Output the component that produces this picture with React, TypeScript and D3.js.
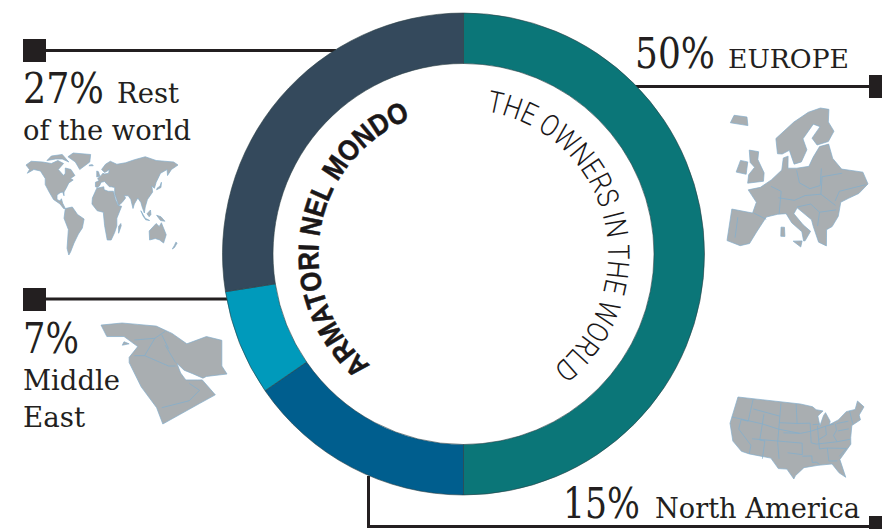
import React from "react";
import * as d3 from "d3";

// ---- data ----
const regions = ["Europe", "North America", "Middle East", "Rest of the world"];
const shares = [50, 15.4, 7.1, 27.5];
const ringColors = ["#0b7678", "#005e8e", "#009abb", "#34495c"];

type Ring = [number, number][];
const worldLand: Ring[] = [
  [[-168,66],[-156,71],[-130,70],[-110,68],[-95,72],[-82,68],[-94,60],[-82,52],[-78,55],[-78,62],[-65,60],[-56,52],[-66,48],[-60,46],[-70,42],[-76,35],[-81,30],[-81,25],[-84,30],[-90,29],[-97,26],[-97,20],[-90,18],[-87,21],[-84,15],[-78,8],[-82,8],[-90,14],[-105,20],[-115,30],[-124,40],[-124,48],[-135,58],[-150,60],[-165,55],[-160,60]],
  [[-45,60],[-22,70],[-20,80],[-60,82],[-72,77],[-55,70]],
  [[-120,72],[-100,74],[-85,74],[-70,70],[-85,80],[-110,78]],
  [[-78,8],[-62,10],[-50,0],[-35,-6],[-39,-18],[-48,-26],[-58,-38],[-66,-50],[-70,-54],[-74,-45],[-71,-20],[-81,-5]],
  [[-9,37],[-9,43],[-1,45],[-4,48],[4,52],[8,55],[12,54],[21,55],[23,60],[18,58],[12,56],[5,60],[14,67],[25,71],[40,67],[60,69],[80,73],[105,77],[130,72],[170,70],[180,66],[165,60],[156,52],[155,60],[140,55],[130,43],[126,35],[120,38],[122,30],[110,20],[105,10],[103,2],[98,10],[95,16],[88,22],[80,14],[77,8],[72,20],[66,25],[57,25],[60,22],[52,16],[44,12],[35,28],[35,36],[27,37],[23,37],[18,40],[12,44],[4,43],[0,38],[-5,36]],
  [[-6,35],[10,37],[11,33],[20,31],[32,31],[37,20],[43,12],[51,11],[40,-5],[40,-15],[35,-24],[27,-34],[18,-34],[12,-15],[9,3],[-5,5],[-17,14],[-16,22]],
  [[44,-25],[50,-15],[49,-12],[44,-16]],
  [[114,-22],[130,-12],[137,-16],[142,-11],[153,-27],[147,-38],[138,-34],[128,-32],[115,-34]],
  [[131,33],[141,36],[142,43],[139,38],[132,35]],
  [[-6,50],[1,51],[-2,57],[-6,58]],
  [[-24,65],[-14,65],[-16,66.5],[-22,66]],
  [[95,5],[105,-5],[115,-8],[106,-7],[100,-2]],
  [[109,1],[117,6],[118,0],[114,-3]],
  [[131,-1],[141,-3],[150,-9],[140,-8]],
  [[172,-41],[175,-37],[178,-38],[172,-44],[167,-46]],
];
const europeLand: Ring[] = [
  [[-9.5,36.5],[-9.5,43.5],[-2,43.5],[-1,46],[-4.5,48.5],[0,49.5],[4,51.5],[8,54],[8.5,57],[10.5,57.5],[10.5,54.5],[14,54.5],[19,54.8],[21,57],[24,59.5],[28,59.8],[29,56],[32,53],[40,51],[41,48],[37,46.5],[33,46],[30,45.5],[28.5,42.5],[26,40.5],[24,40],[23.5,36.5],[21,37.5],[19.5,41],[19,42.5],[14,45.3],[12.8,44],[16,41.5],[18.5,40],[16.5,38],[16,38],[15.5,40],[12,42],[10,44],[7,43.8],[3,43],[0,39.5],[-2,36.8],[-5,36]],
  [[6,58],[5,62],[13,67],[20,70],[26,71],[30,70],[29,66],[31,63],[28,60.5],[23,60],[21,62],[25,65],[22,66],[17,62],[18.5,59],[16,56],[13,55.5],[11,59],[8,58]],
  [[-5,50],[1,51],[1,53],[-2,56],[-2,58],[-6,58],[-5,55],[-3,54],[-5,52]],
  [[-10,52],[-6,52],[-6,55],[-9,55]],
  [[-16,64],[-8,64.5],[-9,67],[-15,66.5]],
  [[12.5,38],[15.5,38],[15,36.7]],
  [[8.3,39],[9.7,39],[9.5,41],[8.3,41]],
];
const europeBorders: Ring[] = [
  [[-1.5,43.5],[3,42.5]],[[-7,42],[-7,37.5]],[[4,50],[8,49],[7.5,44]],[[7,47.5],[13,47],[17,48],[23,48],[28,45]],
  [[14,54],[15,51],[19,49.5],[23,50],[24,54]],[[23,48],[24,52],[32,52]],[[14,45.5],[19,46],[22,44],[28,44]],[[22,44],[21,41]],[[28,46],[30,48],[40,48]],
];
const gulfLand: Ring[] = [
  [[26.3,40.8],[32.4,41.4],[37,41],[42.4,40.5],[47,38.4],[51.3,35.4],[57,37.5],[61.5,36.4],[61.5,29],[63,26.7],[57,26],[56,25.5],[53,26.8],[50.5,27.8],[48.4,29.8],[49.5,27],[51,25],[54.5,25],[55.8,25],[59.6,20.7],[55,18.2],[44.3,12.3],[42.5,17],[38,23],[34.5,30],[34.5,31.5],[37,34.6],[33,37.5],[28,37.5]],
  [[32.5,35],[34.5,35.4],[33,36]],
];
const gulfBorders: Ring[] = [
  [[36,36.5],[42,37],[45,39]],[[45,35],[48,30]],[[36,32],[39,32],[42,37]],[[39,32],[46,29],[48,29]],[[44,17],[52,19],[55,22],[52,24]],[[44,38],[46,34]],
];
const usaLand: Ring[] = [
  [[-124,48.4],[-95,49],[-89.5,48],[-88,47],[-85,46.4],[-87.5,45],[-87,42],[-85,45],[-84,45.8],[-82.5,43],[-83,42],[-79,43],[-75,45],[-71,45],[-69,47.3],[-67,45],[-70,43],[-70,41.5],[-74,40.5],[-75.5,37],[-76,35],[-81,31],[-80,25.3],[-82,27],[-84,30],[-89,30],[-94,29.5],[-97,27],[-97.5,26],[-100,29],[-103,29],[-106,32],[-114,32.3],[-117,32.6],[-121,35],[-124,40]],
];
const usaBorders: Ring[] = [
  [[-117,49],[-117,42],[-120,42],[-120,39],[-114,35],[-114,32.3]],[[-111,45],[-111,37],[-109,37],[-109,31.5]],[[-124,42],[-111,42],[-104,41],[-95.5,40]],[[-104,49],[-104,37],[-103,32]],[[-116,46],[-104,45]],[[-114,37],[-94.5,37],[-94.5,33.5],[-100,34]],
  [[-97,49],[-96.5,43],[-91,43],[-91,37],[-89,36.5],[-81,36.5]],[[-104,43],[-96.5,43]],[[-102,40],[-95,40],[-91,40.5],[-84.5,41.7],[-81,42]],[[-90,42.5],[-87,42.5]],[[-88,42],[-88,35],[-85,35],[-85,31],[-82,30.7]],[[-94.5,33],[-91,33],[-91,31],[-89.5,31],[-88.5,30.3]],[[-84.7,41.7],[-84.8,39],[-88,37.8]],[[-80.5,42],[-80.5,40],[-82,38.5],[-81,36.5],[-76,36.5]],[[-80,39.7],[-75.5,39.7]],[[-75,42],[-80,42]],[[-73.5,45],[-73.5,41]],[[-85,35],[-78,34],[-81,32]],
];

const rowsRest = ["Rest", "of the world"];
const rowsEast = ["Middle", "East"];
const pct = ["50%", "15%", "7%", "27%"];
const titleIt = "ARMATORI NEL MONDO";
const titleEn = "THE OWNERS IN THE WORLD";

// ---- layout ----
const W = 882, H = 529;
const cx = 463.5, cy = 254, R = 241, r = 190.5;
const ink = "#231f20";
const landFill = "#a9aeb1";
const borderInk = "#84aecb";
const slab = "'DejaVu Serif', serif";

const arcOf = d3.arc<d3.PieArcDatum<number>>().innerRadius(r).outerRadius(R);
const pieOf = d3.pie<number>().sort(null).startAngle(0).endAngle(2 * Math.PI);

function circlePath(radius: number, a0Deg: number, a1Deg: number) {
  const p = d3.path();
  const toRad = (d: number) => ((d - 90) * Math.PI) / 180;
  p.arc(cx, cy, radius, toRad(a0Deg), toRad(a1Deg), false);
  return p.toString();
}

function MapShape({ land, borders = [], projection, box }: { land: Ring[]; borders?: Ring[]; projection: d3.GeoProjection; box: [[number, number], [number, number]] }) {
  const projected = land.flat().map((c) => projection(c)!);
  const sx = d3.scaleLinear().domain(d3.extent(projected, (d) => d[0]) as [number, number]).range([box[0][0], box[1][0]]);
  const sy = d3.scaleLinear().domain(d3.extent(projected, (d) => d[1]) as [number, number]).range([box[0][1], box[1][1]]);
  const line = d3.line<[number, number]>()
    .x((d) => sx(projection(d)![0]))
    .y((d) => sy(projection(d)![1]));
  return (
    <g>
      {land.map((ring, i) => (
        <path key={i} d={line(ring)! + "Z"} fill={landFill} stroke={borderInk} strokeWidth={0.7} strokeLinejoin="round" />
      ))}
      {borders.map((ring, i) => (
        <path key={"b" + i} d={line(ring)!} fill="none" stroke={borderInk} strokeWidth={0.8} />
      ))}
    </g>
  );
}

function Label({ x, y, size, width, children }: { x: number; y: number; size: number; width: number; children: string }) {
  return (
    <text x={x} y={y} fontSize={size} fontFamily={slab} fill={ink} textLength={width} lengthAdjust="spacingAndGlyphs">
      {children}
    </text>
  );
}

export default function App() {
  const slices = pieOf(shares);
  return (
    <svg width={W} height={H} viewBox={`0 0 ${W} ${H}`} style={{ position: "absolute", left: 0, top: 0, background: "#fff" }}>
      <defs>
        <path id="arcIt" d={circlePath(145, 220, 340)} />
        <path id="arcEn" d={circlePath(144.5, 9, 142)} />
        <filter id="soft"><feGaussianBlur stdDeviation="0.45" /></filter>
      </defs>

      {/* maps */}
      <g filter="url(#soft)">
        <MapShape land={worldLand} projection={d3.geoEquirectangular()} box={[[26, 153], [178, 255]]} />
        <MapShape land={europeLand} borders={europeBorders} projection={d3.geoConicEqualArea().rotate([-12, 0]).parallels([25, 35])} box={[[727, 108], [868, 247]]} />
        <MapShape land={gulfLand} borders={gulfBorders} projection={d3.geoEquirectangular()} box={[[101, 323], [227, 424]]} />
        <MapShape land={usaLand} borders={usaBorders} projection={d3.geoConicEqualArea().rotate([96, 0]).parallels([29.5, 45.5])} box={[[730, 397], [864, 479]]} />
      </g>

      {/* leaders */}
      <g stroke={ink} strokeWidth={3} fill="none">
        <line x1={46} y1={50.5} x2={336} y2={50.5} />
        <line x1={46} y1={299} x2={228} y2={299} />
        <line x1={634} y1={86.5} x2={870} y2={86.5} />
        <polyline points="368.5,476 368.5,526.5 871,526.5" />
      </g>
      <g fill={ink}>
        <rect x={23} y={39} width={23} height={23} />
        <rect x={23} y={288} width={23} height={23} />
        <rect x={869} y={75} width={13} height={23} />
        <rect x={869} y={516} width={13} height={13} />
      </g>

      {/* ring */}
      <g transform={`translate(${cx},${cy})`}>
        {slices.map((s, i) => (
          <path key={regions[i]} d={arcOf(s)!} fill={ringColors[i]} stroke="#2c3f45" strokeWidth={0.6} />
        ))}
      </g>

      {/* curved titles */}
      <text fontFamily="'Liberation Sans', Arial, sans-serif" fontWeight={700} fontSize={29} fill="#1a1718" stroke="#1a1718" strokeWidth={0.5}>
        <textPath href="#arcIt" textLength={300} lengthAdjust="spacingAndGlyphs">{titleIt}</textPath>
      </text>
      <text fontFamily="Roboto, sans-serif" fontWeight={300} fontSize={30} fill="#1a1718">
        <textPath href="#arcEn" textLength={335} lengthAdjust="spacingAndGlyphs">{titleEn}</textPath>
      </text>

      {/* labels */}
      <Label x={23} y={103} size={42} width={81}>{pct[3]}</Label>
      <Label x={117} y={103} size={27} width={62}>{rowsRest[0]}</Label>
      <Label x={23} y={140} size={27} width={168}>{rowsRest[1]}</Label>

      <Label x={23} y={353} size={42} width={56}>{pct[2]}</Label>
      <Label x={23} y={390} size={27} width={97}>{rowsEast[0]}</Label>
      <Label x={23} y={427} size={27} width={62}>{rowsEast[1]}</Label>

      <Label x={635} y={68} size={42} width={80}>{pct[0]}</Label>
      <Label x={728} y={68} size={26} width={121}>EUROPE</Label>

      <Label x={563} y={518} size={42} width={77}>{pct[1]}</Label>
      <Label x={655} y={518} size={27} width={205}>North America</Label>
    </svg>
  );
}
